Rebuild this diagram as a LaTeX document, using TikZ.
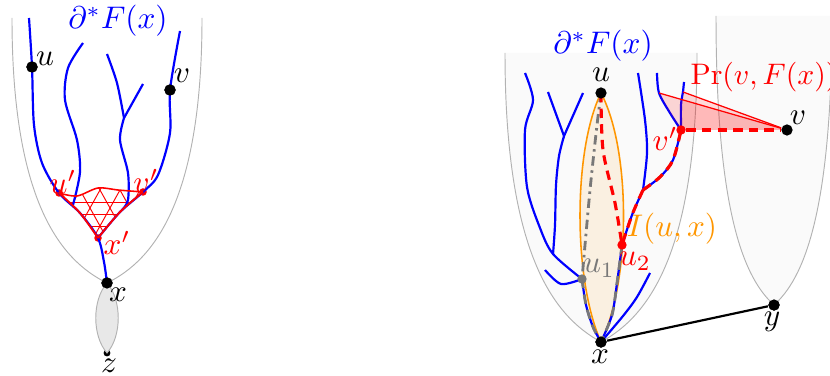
\documentclass[tikz,border=0pt]{standalone}
\usepackage{xcolor}
\usepackage{amsmath}
\usepackage{tikz}
\usetikzlibrary{arrows.meta, positioning, calc}
\definecolor{myblue}{RGB}{0,0,255}
\definecolor{myred}{RGB}{255,0,0}
\definecolor{myorange}{RGB}{255,150,0}
\definecolor{mygray}{RGB}{120,120,120}
\definecolor{lensgray}{RGB}{232,232,232}
\definecolor{regfill}{RGB}{250,250,250}
\definecolor{intfill}{RGB}{250,240,225}
\tikzset{
  dot/.style={circle, fill=black, inner sep=0pt, minimum size=3.6pt},
  reddot/.style={circle, fill=myred, inner sep=0pt, minimum size=3pt},
  graydot/.style={circle, fill=mygray, inner sep=0pt, minimum size=3pt},
  branch/.style={myblue, line width=0.7pt},
  region/.style={draw=black!30, line width=0.3pt},
  mesh/.style={myred, line width=0.3pt},
  geod/.style={myred, line width=1pt, dash pattern=on 3pt off 2pt},
  graygeod/.style={mygray, line width=0.9pt, dash pattern=on 3pt off 2pt},
  lbl/.style={inner sep=0pt}
}

\begin{document}
\begin{tikzpicture}[x=0.32pt, y=-0.32pt]
  \useasboundingbox (0,0) rectangle (830,376);

  % ---------- left picture ----------
  % Points
  \node[dot] (u) at (32,67) {};
  \node[dot] (v) at (170,90) {};
  \node[dot] (x) at (107,283) {};
  \node[dot, minimum size=2.2pt] (z) at (107,353) {};
  \node[reddot, minimum size=2.4pt] (up) at (59,193) {};
  \node[reddot, minimum size=2.4pt] (vp) at (143,192) {};
  \node[reddot, minimum size=2.4pt] (xp) at (98,238) {};
  \coordinate (jl) at (124,118);

  % Gray region and lens
  \draw[region] (12,18) .. controls (12,200) and (60,260) .. (x.center)
    .. controls (154,260) and (202,200) .. (202,18);
  \filldraw[region, fill=lensgray] (x.center) .. controls (92,300) and (92,336) .. (z.center)
    .. controls (122,336) and (122,300) .. (x.center);

  % Mesh between u', v', x'
  \begin{scope}
    \clip plot[smooth] coordinates {(up.center) (77,196) (98,188) (118,190) (vp.center)}
      -- plot[smooth] coordinates {(vp.center) (120,212) (xp.center)}
      -- plot[smooth] coordinates {(xp.center) (80,213) (up.center)} -- cycle;
    \foreach \h in {202,214,226}
      \draw[mesh] (40,\h) -- (160,\h);
    \foreach \s in {10,30,...,190} {
      \draw[mesh] (\s,172) -- ++(40,72);
      \draw[mesh] (\s,172) -- ++(-40,72);
    }
  \end{scope}

  % Branches of the boundary
  \draw[branch] plot[smooth] coordinates {(29,18) (u.center) (34,125) (42,163) (up.center) (80,213) (xp.center) (104,262) (x.center)};
  \draw[branch] plot[smooth] coordinates {(180,31) (v.center) (170,133) (158,175) (vp.center) (120,212) (xp.center)};
  \draw[branch] plot[smooth] coordinates {(83,43) (68,68) (65,100) (77,140) (80,172) (73,205)};
  \draw[branch] plot[smooth] coordinates {(107,54) (117,83) (jl)};
  \draw[branch] (jl) -- (143,84);
  \draw[branch] plot[smooth] coordinates {(jl) (120,140) (128,173) (128,200) (122,210)};

  % Red boundary of the mesh
  \draw[mesh, line width=0.5pt] plot[smooth] coordinates {(up.center) (77,196) (98,188) (118,190) (vp.center)};
  \draw[mesh, line width=0.6pt] plot[smooth] coordinates {(up.center) (80,213) (xp.center)};
  \draw[mesh, line width=0.6pt] plot[smooth] coordinates {(vp.center) (120,212) (xp.center)};

  % Points on top
  \node[dot] at (u) {};
  \node[dot] at (v) {};
  \node[dot] at (x) {};

  % Labels
  \node[myblue] (lbdl) at (118,21) {$\partial^*F(x)$};
  \node[lbl] (lu) at (45,59) {$u$};
  \node[lbl] (lv) at (182,76) {$v$};
  \node[lbl] (lx) at (118,295) {$x$};
  \node[lbl] (lz) at (109,366) {$z$};
  \node[lbl, myred] (lup) at (63,182) {$u'$};
  \node[lbl, myred] (lvp) at (146,181) {$v'$};
  \node[lbl, myred] (lxp) at (117,243) {$x'$};

  % ---------- right picture ----------
  % Points
  \node[dot] (ru) at (601,93) {};
  \node[dot] (rx) at (601,342) {};
  \node[dot] (ry) at (774,305) {};
  \node[dot] (rv) at (787,130) {};
  \node[reddot] (rvp) at (681,130) {};
  \node[reddot] (ru2) at (622,245) {};
  \node[graydot] (ru1) at (582,279) {};
  \coordinate (ja) at (553,254);
  \coordinate (jb) at (564,136);
  \coordinate (jd) at (643,190);
  \coordinate (pa) at (659,93);
  \coordinate (pb) at (683,92);

  % Gray regions
  \fill[regfill] (505,53) .. controls (505,252) and (553,316) .. (rx.center)
    .. controls (649,316) and (697,252) .. (697,53) -- cycle;
  \draw[region] (505,53) .. controls (505,252) and (553,316) .. (rx.center)
    .. controls (649,316) and (697,252) .. (697,53);
  \fill[regfill] (716,16) .. controls (716,215) and (745,279) .. (ry.center)
    .. controls (803,279) and (832,215) .. (832,16) -- cycle;
  \draw[region] (716,16) .. controls (716,215) and (745,279) .. (ry.center)
    .. controls (803,279) and (832,215) .. (832,16);

  % Edge x--y
  \draw[line width=0.7pt] (rx) -- (ry);

  % Interval I(u,x)
  \filldraw[fill=intfill, draw=myorange, line width=0.5pt] (ru.center)
    .. controls (573,150) and (573,280) .. (rx.center)
    .. controls (631,280) and (631,150) .. (ru.center);

  % Branches of the boundary
  \draw[branch] plot[smooth] coordinates {(525,73) (533,100) (525,130) (527,187) (540,228) (ja) (ru1.center)};
  \draw[branch] plot[smooth] coordinates {(ru1.center) (586,305) (593,327) (rx.center)};
  \draw[branch] (548,92) -- (jb) -- (583,93);
  \draw[branch] plot[smooth] coordinates {(jb) (559,156) (556,185) (555,225) (ja)};
  \draw[branch] plot[smooth] coordinates {(545,270) (561,284) (ru1.center)};
  \draw[branch] plot[smooth] coordinates {(638,73) (645,120) (647,153) (jd)};
  \draw[branch] plot[smooth] coordinates {(jd) (632,215) (ru2.center)};
  \draw[branch] plot[smooth] coordinates {(ru2.center) (617,283) (612,315) (rx.center)};
  \draw[branch] plot[smooth] coordinates {(jd) (660,177) (673,160) (rvp.center)};
  \draw[branch] plot[smooth] coordinates {(657,73) (pa) (670,113) (rvp.center)};
  \draw[branch] plot[smooth] coordinates {(pb) (681,105) (rvp.center)};
  \draw[branch] (pb) -- (684,82);
  \draw[branch] plot[smooth] coordinates {(650,273) (637,297) (623,316) (rx.center)};

  % Projection Pr(v,F(x))
  \fill[myred, opacity=0.15] (pa) -- (rv.center) -- (rvp.center)
    -- plot[smooth] coordinates {(rvp.center) (670,113) (pa)} -- cycle;
  \fill[myred, opacity=0.15] (pb) -- (rv.center) -- (rvp.center) -- cycle;
  \draw[myred, line width=0.4pt] (pa) -- (rv);
  \draw[myred, line width=0.4pt] (pb) -- (rv);

  % Geodesics
  \draw[mygray, line width=0.9pt, dash pattern=on 3pt off 1.5pt on 0.8pt off 1.5pt]
    plot[smooth] coordinates {(ru.center) (597,125) (590,190) (ru1.center)};
  \draw[graygeod] plot[smooth] coordinates {(ru1.center) (586,305) (593,327) (rx.center)};
  \draw[graygeod] plot[smooth] coordinates {(ru2.center) (617,283) (612,315) (rx.center)};
  \draw[graygeod] plot[smooth] coordinates {(jd) (660,177) (673,160) (rvp.center)};
  \draw[geod] plot[smooth] coordinates {(ru.center) (603,150) (615,203) (ru2.center)};
  \draw[geod] plot[smooth] coordinates {(jd) (632,215) (ru2.center)};
  \draw[geod] plot[smooth] coordinates {(jd) (660,177) (673,160) (rvp.center)};
  \draw[geod] (rvp) -- (rv);

  % Points on top
  \node[dot] at (ru) {};
  \node[dot] at (rx) {};
  \node[dot] at (ry) {};
  \node[dot] at (rv) {};
  \node[reddot] at (rvp) {};
  \node[reddot] at (ru2) {};
  \node[graydot] at (ru1) {};

  % Labels
  \node[myblue] (lbdr) at (603,46) {$\partial^*F(x)$};
  \node[lbl] (lru) at (601,75) {$u$};
  \node[lbl] (lrx) at (600,357) {$x$};
  \node[lbl] (lry) at (772,322) {$y$};
  \node[lbl] (lrv) at (798,118) {$v$};
  \node[lbl, myred] (lrvp) at (665,139) {$v'$};
  \node[lbl, myred] (lru2) at (635,261) {$u_2$};
  \node[lbl, mygray] (lru1) at (599,268) {$u_1$};
  \node[lbl, myorange] (lint) at (672,229) {$I(u,x)$};
  \node[lbl, myred, anchor=west, scale=0.95] (lpr) at (690,77) {$\mathrm{Pr}(v,F(x))$};
\end{tikzpicture}
\end{document}
